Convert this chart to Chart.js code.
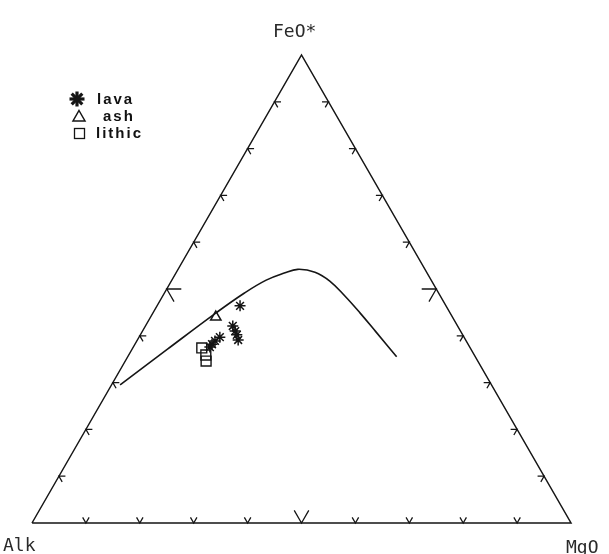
<!DOCTYPE html>
<html>
<head>
<meta charset="utf-8">
<title>AFM diagram</title>
<script src="https://cdn.jsdelivr.net/npm/chart.js@4/dist/chart.umd.min.js"></script>
<style>
  html, body { margin: 0; padding: 0; background: #fff; }
  #wrap { position: relative; width: 609px; height: 554px; overflow: hidden; }
  #afm { position: absolute; left: 0; top: 0; }
  .apex {
    position: absolute; font-family: "DejaVu Sans Mono", monospace;
    font-size: 18px; line-height: 18px; color: #2a2a2a; white-space: nowrap;
  }
  .leg {
    position: absolute; font-family: "Liberation Sans", Arial, sans-serif;
    font-weight: bold; font-size: 15px; line-height: 15px; letter-spacing: 2px;
    color: #111; white-space: nowrap;
  }
</style>
</head>
<body>
<div id="wrap">
  <canvas id="afm" width="609" height="554"></canvas>
  <div class="apex" style="left:273px;top:22px;">FeO*</div>
  <div class="apex" style="left:3px;top:536px;">Alk</div>
  <div class="apex" style="left:566px;top:538px;">MgO</div>
  <div class="leg" style="left:97px;top:91px;">lava</div>
  <div class="leg" style="left:103px;top:108px;">ash</div>
  <div class="leg" style="left:96px;top:125px;">lithic</div>
</div>
<script>
// Compositions are in wt% of (Alk, FeO*, MgO), each triple summing to 100.

// Tholeiitic / calc-alkaline dividing line
const dividerAlk = [68.9, 56.2, 43.4, 36.1, 30.6, 26.5, 23.6, 20.7, 18.9, 17.7, 16.7, 15.8, 14.6];
const dividerFeO = [29.5, 37.2, 44.9, 49.1, 51.9, 53.4, 54.2, 53.6, 51.7, 48.5, 44.9, 41.0, 35.5];
const dividerMgO = [ 1.6,  6.6, 11.7, 14.8, 17.5, 20.1, 22.2, 25.7, 29.4, 33.8, 38.4, 43.2, 49.9];

// Lava samples
const lavaAlk = [38.2, 41.7, 41.8, 41.9, 42.2, 45.3, 46.6, 47.5, 48.2];
const lavaFeO = [46.4, 42.1, 41.0, 40.2, 39.1, 39.7, 38.9, 38.2, 37.6];
const lavaMgO = [15.4, 16.2, 17.2, 17.9, 18.7, 15.0, 14.5, 14.3, 14.2];

// Ash sample
const ashAlk = [43.9];
const ashFeO = [44.0];
const ashMgO = [12.1];

// Lithic samples
const lithicAlk = [49.8, 49.8, 50.4];
const lithicFeO = [37.4, 35.9, 34.6];
const lithicMgO = [12.8, 14.3, 15.0];

// Tick positions along each side (percent), the middle one drawn larger
const sideTicks = [10, 20, 30, 40, 50, 60, 70, 80, 90];
const majorTick = 50;

// Corners: Alk (lower left), MgO (lower right), FeO* (top)
const corners = { alk: [100, 0, 0], mgo: [0, 0, 100], feo: [0, 100, 0] };

const SQ = Math.sqrt(3) / 2;
const INK = '#151515';

// Ternary (Alk, FeO*, MgO) -> cartesian, Alk at (0,0), MgO at (1,0), FeO* at (0.5, SQ)
function toXY(a, f, m) {
  const s = a + f + m;
  return { x: (m + f / 2) / s, y: (f / s) * SQ };
}
function points(aArr, fArr, mArr) {
  return aArr.map((a, i) => toXY(a, fArr[i], mArr[i]));
}

// Frame of the triangle
const frame = [corners.alk, corners.mgo, corners.feo, corners.alk].map(c => toXY(c[0], c[1], c[2]));

// Tick stubs: two short strokes from the side, parallel to the other two sides
const SMALL = 0.012, BIG = 0.027;
const tickSegs = [];
function addTick(p, d1, d2, len) {
  tickSegs.push({ x: p.x + d1[0] * len, y: p.y + d1[1] * len });
  tickSegs.push({ x: p.x, y: p.y });
  tickSegs.push({ x: p.x + d2[0] * len, y: p.y + d2[1] * len });
  tickSegs.push({ x: p.x, y: null });
}
sideTicks.forEach(t => {
  const len = t === majorTick ? BIG : SMALL;
  // base (Alk–MgO)
  addTick(toXY(100 - t, 0, t), [0.5, SQ], [-0.5, SQ], len);
  // left side (Alk–FeO*)
  addTick(toXY(100 - t, t, 0), [1, 0], [0.5, -SQ], len);
  // right side (MgO–FeO*)
  addTick(toXY(0, t, 100 - t), [-1, 0], [-0.5, -SQ], len);
});

// Legend symbols drawn on the canvas next to the HTML labels
const legendMarks = {
  id: 'legendMarks',
  afterDraw(chart) {
    const ctx = chart.ctx;
    ctx.save();
    ctx.strokeStyle = INK;
    ctx.lineCap = 'butt';
    // heavy asterisk
    ctx.lineWidth = 3.2;
    const cx = 77, cy = 99, r = 7.5;
    for (let k = 0; k < 4; k++) {
      const ang = k * Math.PI / 4;
      ctx.beginPath();
      ctx.moveTo(cx - r * Math.cos(ang), cy - r * Math.sin(ang));
      ctx.lineTo(cx + r * Math.cos(ang), cy + r * Math.sin(ang));
      ctx.stroke();
    }
    // triangle
    ctx.lineWidth = 1.5;
    ctx.beginPath();
    ctx.moveTo(79, 110.5);
    ctx.lineTo(85, 121);
    ctx.lineTo(73, 121);
    ctx.closePath();
    ctx.stroke();
    // square
    ctx.lineWidth = 1.3;
    ctx.strokeRect(74.5, 128.5, 10, 10);
    ctx.restore();
  }
};

const lineBase = { showLine: true, pointRadius: 0, borderColor: INK, fill: false, clip: false, spanGaps: false };

new Chart(document.getElementById('afm'), {
  type: 'scatter',
  data: {
    datasets: [
      { label: 'lava', data: points(lavaAlk, lavaFeO, lavaMgO), pointStyle: 'star',
        pointRadius: 5.5, borderColor: INK, backgroundColor: INK, borderWidth: 1.5, clip: false },
      { label: 'ash', data: points(ashAlk, ashFeO, ashMgO), pointStyle: 'triangle',
        pointRadius: 6, borderColor: INK, backgroundColor: 'rgba(0,0,0,0)', borderWidth: 1.5, clip: false },
      { label: 'lithic', data: points(lithicAlk, lithicFeO, lithicMgO), pointStyle: 'rect',
        pointRadius: 7, borderColor: INK, backgroundColor: 'rgba(0,0,0,0)', borderWidth: 1.4, clip: false },
      Object.assign({ label: 'divider', data: points(dividerAlk, dividerFeO, dividerMgO),
        borderWidth: 1.6, tension: 0.4 }, lineBase),
      Object.assign({ label: 'ticks', data: tickSegs, borderWidth: 1.3, tension: 0 }, lineBase),
      Object.assign({ label: 'frame', data: frame, borderWidth: 1.5, tension: 0 }, lineBase)
    ]
  },
  options: {
    responsive: false,
    animation: false,
    devicePixelRatio: 1,
    layout: { padding: { left: 32, right: 38, top: 55, bottom: 31 } },
    scales: {
      x: { type: 'linear', min: 0, max: 1, display: false },
      y: { type: 'linear', min: 0, max: SQ, display: false }
    },
    plugins: { legend: { display: false }, tooltip: { enabled: false } }
  },
  plugins: [legendMarks]
});
</script>
</body>
</html>
